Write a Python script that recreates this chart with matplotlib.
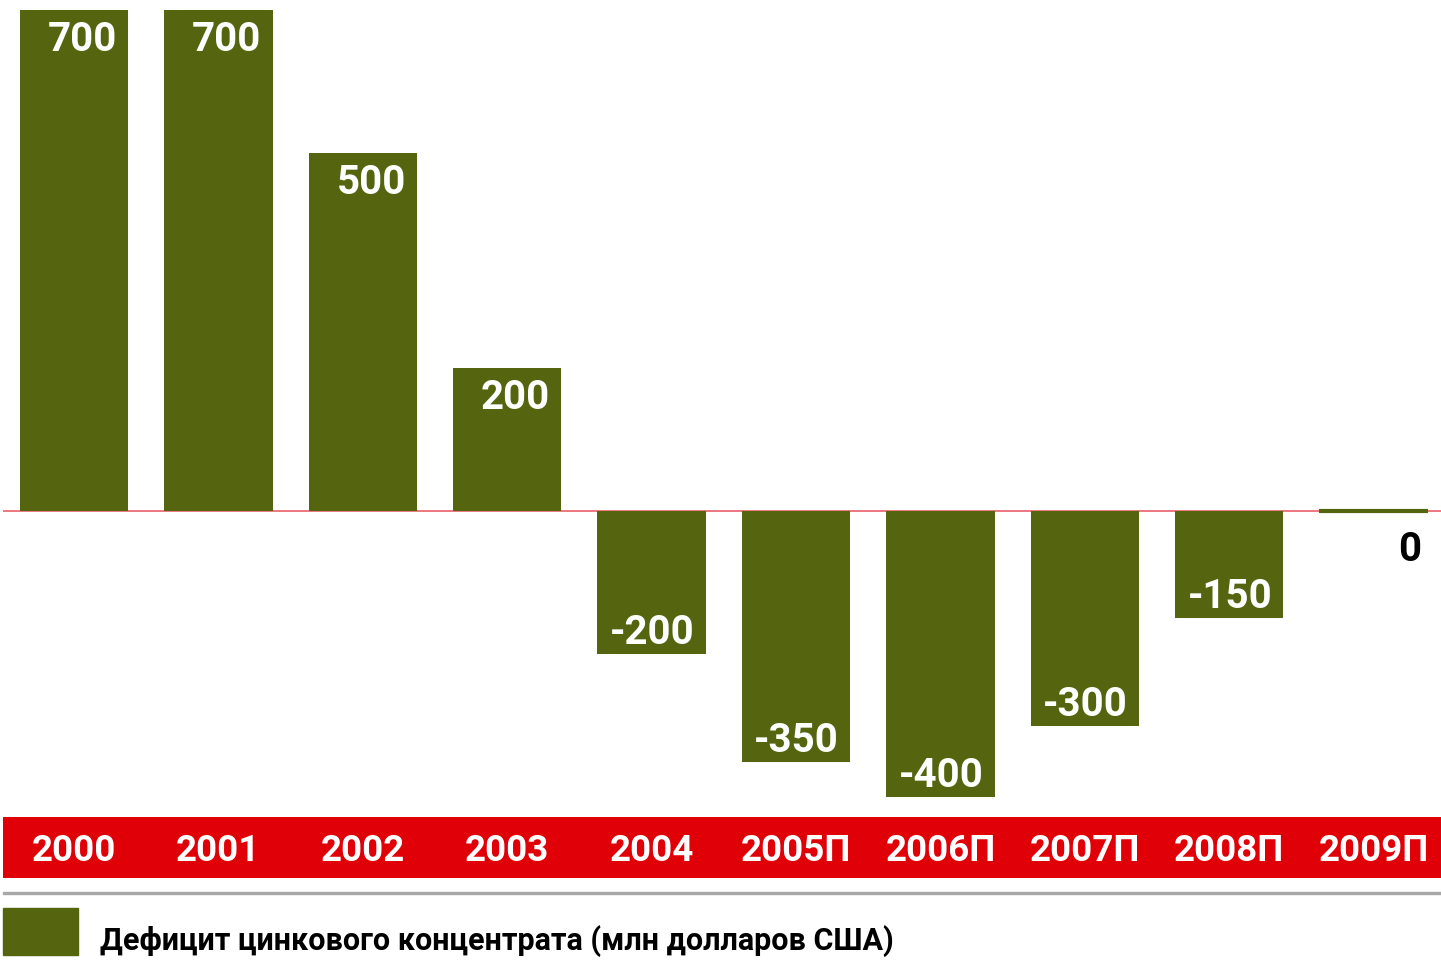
import matplotlib.pyplot as plt
import numpy as np

years = ['2000', '2001', '2002', '2003', '2004', '2005П', '2006П', '2007П', '2008П', '2009П']
deficit = [700, 700, 500, 200, -200, -350, -400, -300, -150, 0]
legend_label = 'Дефицит цинкового концентрата (млн долларов США)'

green = '#55650f'
red = '#e00008'

plt.rcParams['font.family'] = ['Roboto', 'DejaVu Sans']
plt.rcParams['font.weight'] = 'bold'

W, H = 1441, 969
fig = plt.figure(figsize=(W / 100, H / 100), dpi=100)


def px_axes(x0, y0, x1, y1):
    # pixel box (top-left origin) -> figure axes
    return fig.add_axes([x0 / W, 1 - y1 / H, (x1 - x0) / W, (y1 - y0) / H])


step = 144.4
x_lim = (-(74 - 3) / step, 9 + (1441 - (74 + 9 * step)) / step)
scale = (511 - 10) / 700.0

ax = px_axes(3, 0, 1441, 810)
ax.set_xlim(*x_lim)
ax.set_ylim(-(810 - 511) / scale, 511 / scale)
ax.axis('off')

x = np.arange(len(years))
bars = ax.bar(x, deficit, width=0.75, color=green, zorder=2)
bars[-1].set_edgecolor(green)
bars[-1].set_linewidth(3)
ax.axhline(0, color='#e8606a', lw=1.2, zorder=1)

for xi, v in zip(x, deficit):
    right = xi + 0.375 - 11 / step
    if v > 0:
        ax.text(right, v - 30 / scale, str(v), ha='right', va='center',
                color='white', fontsize=29, fontweight='bold', zorder=3)
    elif v < 0:
        ax.text(right, v + 21 / scale, str(v), ha='right', va='center',
                color='white', fontsize=29, fontweight='bold', zorder=3)
    else:
        ax.text(xi + 0.375 - 6 / step, -39 / scale, str(v), ha='right', va='center',
                color='black', fontsize=29, fontweight='bold', zorder=3)

# red band with years
band = px_axes(3, 817, 1441, 878)
band.set_xlim(*x_lim)
band.set_ylim(0, 1)
band.set_facecolor(red)
for s in band.spines.values():
    s.set_visible(False)
band.set_xticks([])
band.set_yticks([])
for xi, yr in zip(x, years):
    band.text(xi, 0.45, yr, ha='center', va='center', color='white',
              fontsize=26.5, fontweight='bold')

# gray separator
fig.patches.append(plt.Rectangle((3 / W, 1 - 894 / H), 1438 / W, 2 / H,
                                 transform=fig.transFigure, color='#a8a8a8'))

# legend
fig.patches.append(plt.Rectangle((3 / W, 1 - 955 / H), 75 / W, 47 / H,
                                 transform=fig.transFigure, color=green))
fig.text(100 / W, 1 - 941 / H, legend_label, ha='left', va='center',
         fontsize=22, fontweight='bold', color='black')

fig.savefig('out.png', dpi=100, facecolor='white')
